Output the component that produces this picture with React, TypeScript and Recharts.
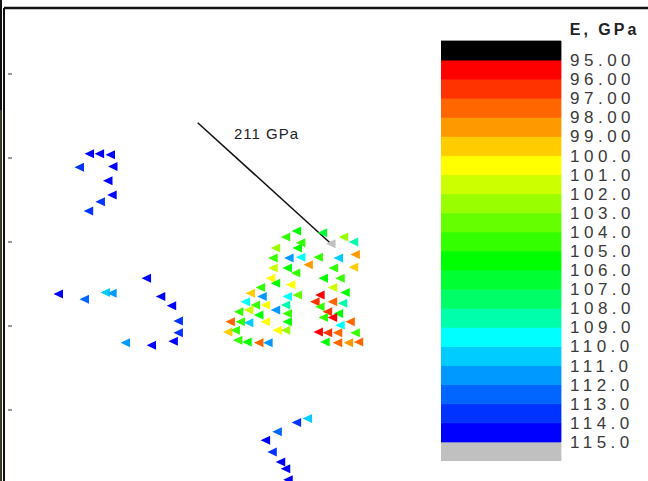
import React from "react";
import {
  ScatterChart,
  Scatter,
  XAxis,
  YAxis,
  ReferenceLine,
  ReferenceDot,
  BarChart,
  Bar,
} from "recharts";

// colour scale, E in GPa (one band per GPa, 95 -> 115)
const BAND_LABELS = [
  "95.00", "96.00", "97.00", "98.00", "99.00", "100.0", "101.0",
  "102.0", "103.0", "104.0", "105.0", "106.0", "107.0", "108.0",
  "109.0", "110.0", "111.0", "112.0", "113.0", "114.0", "115.0",
];
const BAND_COLORS = [
  "#ff0000", "#ff3300", "#ff6600", "#ff9900", "#ffcc00",
  "#ffff00", "#ccff00", "#99ff00", "#66ff00", "#33ff00",
  "#00ff00", "#00ff33", "#00ff66", "#00ffaa", "#00ffff",
  "#00ccff", "#0099ff", "#0066ff", "#0033ff", "#0000ff",
];
const BELOW_MIN_COLOR = "#000000"; // E < 95
const ABOVE_MAX_COLOR = "#c0c0c0"; // E > 115
const E_MIN = 95;

// map units, y ticks every 10
const Y_TICKS = [0, 10, 20, 30, 40];
const X_DOMAIN = [0, 76.8];
const Y_DOMAIN = [-8.45, 47.86];

const NW_GROUP = [
  { x: 10.2, y: 30.5, e: 114.3 },
  { x: 11.4, y: 30.5, e: 114.5 },
  { x: 12.7, y: 30.4, e: 114.6 },
  { x: 9.0, y: 28.9, e: 113.4 },
  { x: 13.0, y: 29.0, e: 114.7 },
  { x: 12.4, y: 27.3, e: 114.2 },
  { x: 12.9, y: 25.6, e: 114.6 },
  { x: 11.5, y: 24.8, e: 113.5 },
  { x: 10.1, y: 23.7, e: 113.2 },
];

const W_GROUP = [
  { x: 6.5, y: 13.8, e: 114.6 },
  { x: 9.6, y: 13.2, e: 112.8 },
  { x: 12.1, y: 14.0, e: 110.5 },
  { x: 12.9, y: 13.9, e: 111.4 },
  { x: 17.0, y: 15.7, e: 114.1 },
  { x: 18.7, y: 13.5, e: 114.3 },
  { x: 20.0, y: 12.4, e: 114.5 },
  { x: 20.8, y: 10.6, e: 113.6 },
  { x: 20.8, y: 9.2, e: 113.7 },
  { x: 20.2, y: 8.2, e: 114.4 },
  { x: 17.6, y: 7.7, e: 114.5 },
  { x: 14.5, y: 8.0, e: 111.6 },
];

const S_GROUP = [
  { x: 36.2, y: -1.0, e: 110.3 },
  { x: 34.9, y: -1.5, e: 113.5 },
  { x: 32.6, y: -2.6, e: 112.6 },
  { x: 31.2, y: -3.6, e: 114.4 },
  { x: 32.0, y: -5.0, e: 113.6 },
  { x: 33.0, y: -6.2, e: 114.2 },
  { x: 33.6, y: -7.0, e: 114.5 },
  { x: 33.9, y: -8.3, e: 114.3 },
];

const CENTER_LEFT = [
  { x: 33.6, y: 20.6, e: 104.6 },
  { x: 34.9, y: 21.3, e: 105.3 },
  { x: 32.4, y: 19.3, e: 102.6 },
  { x: 35.0, y: 19.3, e: 105.5 },
  { x: 34.0, y: 18.1, e: 111.4 },
  { x: 32.1, y: 18.1, e: 104.2 },
  { x: 35.4, y: 18.2, e: 109.5 },
  { x: 32.1, y: 16.9, e: 101.8 },
  { x: 33.8, y: 16.9, e: 105.1 },
  { x: 34.8, y: 16.3, e: 104.3 },
  { x: 31.8, y: 15.7, e: 100.6 },
  { x: 32.4, y: 15.1, e: 105.4 },
  { x: 34.2, y: 14.9, e: 100.8 },
  { x: 30.6, y: 14.6, e: 104.8 },
  { x: 29.4, y: 13.9, e: 99.5 },
  { x: 30.8, y: 13.5, e: 111.2 },
  { x: 33.8, y: 13.5, e: 109.6 },
  { x: 35.0, y: 13.7, e: 103.9 },
  { x: 28.8, y: 12.9, e: 109.4 },
  { x: 30.0, y: 12.5, e: 104.7 },
  { x: 31.2, y: 12.5, e: 100.7 },
  { x: 32.4, y: 11.9, e: 111.3 },
  { x: 33.6, y: 12.5, e: 108.3 },
  { x: 28.0, y: 11.7, e: 104.4 },
  { x: 29.2, y: 11.9, e: 101.2 },
  { x: 30.4, y: 11.3, e: 105.2 },
  { x: 33.8, y: 11.5, e: 104.8 },
  { x: 27.0, y: 10.5, e: 97.8 },
  { x: 28.2, y: 10.5, e: 104.3 },
  { x: 29.2, y: 10.4, e: 110.4 },
  { x: 31.2, y: 10.5, e: 100.5 },
  { x: 33.8, y: 10.5, e: 105.6 },
  { x: 26.7, y: 9.3, e: 99.8 },
  { x: 27.6, y: 9.5, e: 104.6 },
  { x: 32.6, y: 9.5, e: 100.9 },
  { x: 33.6, y: 9.5, e: 102.3 },
  { x: 27.9, y: 8.3, e: 104.5 },
  { x: 29.0, y: 8.1, e: 105.3 },
  { x: 30.4, y: 8.0, e: 97.3 },
  { x: 31.5, y: 8.0, e: 111.5 },
];

const CENTER_RIGHT = [
  { x: 35.4, y: 19.9, e: 104.9 },
  { x: 38.0, y: 21.1, e: 106.0 },
  { x: 40.5, y: 20.6, e: 102.4 },
  { x: 41.7, y: 20.0, e: 108.6 },
  { x: 37.5, y: 18.2, e: 104.8 },
  { x: 39.9, y: 18.1, e: 110.0 },
  { x: 41.9, y: 18.5, e: 98.6 },
  { x: 36.3, y: 17.3, e: 98.2 },
  { x: 41.7, y: 17.0, e: 99.7 },
  { x: 39.3, y: 16.9, e: 104.5 },
  { x: 38.1, y: 15.7, e: 105.0 },
  { x: 40.1, y: 15.7, e: 104.2 },
  { x: 39.2, y: 14.6, e: 101.0 },
  { x: 40.7, y: 14.0, e: 105.4 },
  { x: 37.7, y: 13.7, e: 95.6 },
  { x: 37.1, y: 12.9, e: 96.3 },
  { x: 39.2, y: 12.9, e: 97.6 },
  { x: 40.4, y: 12.7, e: 108.9 },
  { x: 37.7, y: 12.3, e: 104.6 },
  { x: 38.6, y: 11.7, e: 96.7 },
  { x: 39.9, y: 11.5, e: 105.1 },
  { x: 38.1, y: 11.0, e: 104.3 },
  { x: 39.2, y: 11.0, e: 95.4 },
  { x: 41.3, y: 10.5, e: 97.4 },
  { x: 40.1, y: 10.1, e: 109.3 },
  { x: 37.5, y: 9.3, e: 95.7 },
  { x: 38.6, y: 9.2, e: 96.2 },
  { x: 39.8, y: 9.2, e: 97.2 },
  { x: 41.9, y: 9.2, e: 104.8 },
  { x: 38.3, y: 8.1, e: 105.3 },
  { x: 39.8, y: 8.0, e: 97.7 },
  { x: 41.1, y: 8.0, e: 98.3 },
  { x: 42.3, y: 8.1, e: 97.9 },
];

// the outlier with its callout
const OUTLIER = [{ x: 39.0, y: 19.8, e: 211 }];
const CALLOUT_TEXT = "211 GPa";
const CALLOUT_START = { x: 23.1, y: 34.2 };
const CALLOUT_LABEL_POS = { x: 31.3, y: 32.9 };

const GROUPS = [NW_GROUP, W_GROUP, S_GROUP, CENTER_LEFT, CENTER_RIGHT, OUTLIER];

function colorFor(e: number) {
  if (e < E_MIN) return BELOW_MIN_COLOR;
  const i = Math.floor(e - E_MIN);
  if (i >= BAND_COLORS.length) return ABOVE_MAX_COLOR;
  return BAND_COLORS[i];
}

const Triangle = (props: any) => {
  const { cx, cy, payload } = props;
  if (cx == null || cy == null) return null;
  return (
    <polygon
      points={`${cx - 5},${cy} ${cx + 4.5},${cy - 4.5} ${cx + 4.5},${cy + 4.5}`}
      fill={colorFor(payload.e)}
    />
  );
};

// short tick marks sitting just inside the frame
const InnerTick = ({ x, y }: any) => (
  <line x1={x + 4} x2={x + 8} y1={y} y2={y} stroke="#777" strokeWidth={1.5} />
);

// colour bar: stacked 1-GPa segments, bottom (>115) to top (<95)
const STACK_COLORS = [ABOVE_MAX_COLOR, ...[...BAND_COLORS].reverse(), BELOW_MIN_COLOR];
const colorBarRow: Record<string, any> = { name: "E" };
STACK_COLORS.forEach((_, i) => (colorBarRow[`s${i}`] = 1));
const COLOR_BAR_DATA = [colorBarRow];
const COLOR_BAR_TICKS = BAND_LABELS.map((_, i) => i + 1);

export default function App() {
  return (
    <div
      style={{
        position: "absolute",
        left: 0,
        top: 0,
        width: 648,
        height: 481,
        overflow: "hidden",
        background: "#fff",
        fontFamily: "'Liberation Sans', Arial, sans-serif",
      }}
    >
      <div
        style={{
          position: "absolute",
          left: 0,
          top: 0,
          width: 2,
          height: 481,
          background: "linear-gradient(#111 0 110px, #3c3b26 110px)",
        }}
      />
      <div style={{ position: "absolute", left: 0, top: 0 }}>
        <ScatterChart
          width={648}
          height={481}
          margin={{ top: 7, right: 0, bottom: 0, left: 3 }}
        >
          <XAxis
            type="number"
            dataKey="x"
            orientation="top"
            domain={X_DOMAIN}
            height={1}
            tick={false}
            tickLine={false}
            axisLine={{ stroke: "#111", strokeWidth: 2.5 }}
          />
          <YAxis
            type="number"
            dataKey="y"
            domain={Y_DOMAIN}
            ticks={Y_TICKS}
            width={1}
            tickSize={0}
            tickMargin={0}
            tickLine={false}
            tick={<InnerTick />}
            axisLine={{ stroke: "#111", strokeWidth: 2 }}
            allowDataOverflow
          />
          <ReferenceLine
            segment={[CALLOUT_START, OUTLIER[0]]}
            stroke="#111"
            strokeWidth={1.5}
            ifOverflow="visible"
          />
          <ReferenceDot
            x={CALLOUT_LABEL_POS.x}
            y={CALLOUT_LABEL_POS.y}
            r={0}
            fill="none"
            stroke="none"
            label={{
              value: CALLOUT_TEXT,
              position: "center",
              fill: "#222",
              fontSize: 15,
              letterSpacing: 1,
            }}
          />
          {GROUPS.map((g, i) => (
            <Scatter
              key={i}
              data={g}
              shape={<Triangle />}
              isAnimationActive={false}
            />
          ))}
        </ScatterChart>
      </div>
      <div style={{ position: "absolute", left: 441, top: 0 }}>
        <BarChart
          width={207}
          height={461}
          data={COLOR_BAR_DATA}
          margin={{ top: 41, right: 0, bottom: 0, left: 0 }}
          barCategoryGap={0}
        >
          <XAxis dataKey="name" hide />
          <YAxis
            type="number"
            orientation="right"
            domain={[0, STACK_COLORS.length]}
            ticks={COLOR_BAR_TICKS}
            interval={0}
            width={87}
            axisLine={false}
            tickLine={false}
            tickSize={0}
            tickMargin={9}
            tickFormatter={(v: number) => BAND_LABELS[BAND_LABELS.length - v]}
            tick={{ fill: "#3a3a3a", fontSize: 17, letterSpacing: 4.5 }}
            label={{
              value: "E, GPa",
              position: "top",
              offset: 6,
              fill: "#222",
              fontSize: 16,
              fontWeight: "bold",
              letterSpacing: 3,
            }}
          />
          {STACK_COLORS.map((c, i) => (
            <Bar
              key={i}
              dataKey={`s${i}`}
              stackId="bar"
              fill={c}
              stroke={c}
              strokeWidth={0.8}
              isAnimationActive={false}
            />
          ))}
        </BarChart>
      </div>
    </div>
  );
}
